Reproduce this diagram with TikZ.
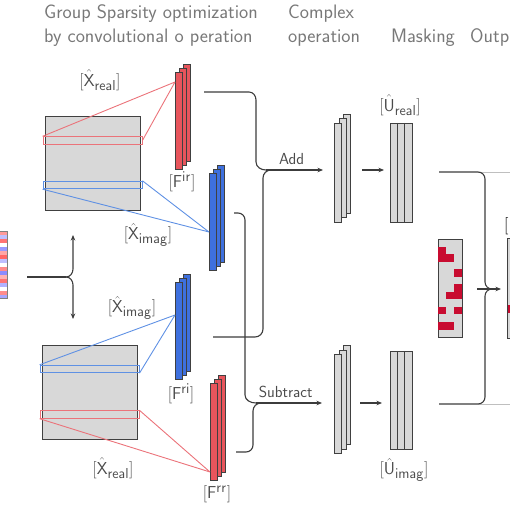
\documentclass[tikz,border=0pt]{standalone}
\usetikzlibrary{arrows.meta,calc}
\renewcommand{\familydefault}{\sfdefault}
\definecolor{fred}{RGB}{232,85,92}
\definecolor{fblue}{RGB}{62,112,222}
\definecolor{boxgray}{RGB}{216,216,216}
\definecolor{linec}{RGB}{60,60,60}
\definecolor{headgray}{RGB}{120,120,120}
\definecolor{labgray}{RGB}{75,75,75}
\definecolor{bandred}{RGB}{235,115,122}
\definecolor{bandblue}{RGB}{95,145,228}
\definecolor{maskred}{RGB}{200,12,48}
\begin{document}
\begin{tikzpicture}[x=1pt,y=-1pt,
  conn/.style={draw=linec,line width=1.1pt},
  arr/.style={conn,-{Stealth[length=5.5pt,width=4.5pt]}},
  fbar/.style={draw=black!75,line width=0.7pt,minimum width=7pt,minimum height=97pt,inner sep=0pt,anchor=north west},
  gbar/.style={draw=black!75,fill=boxgray,line width=0.8pt,minimum width=7pt,minimum height=99pt,inner sep=0pt,anchor=north west},
  head/.style={text=headgray,font=\fontsize{19.5}{22}\selectfont,anchor=base west,inner sep=0pt},
  lab/.style={text=labgray,font=\fontsize{19}{22}\selectfont,inner sep=0pt},
  oplab/.style={text=labgray,font=\fontsize{16}{19}\selectfont,inner sep=0pt},
  band/.style={line width=0.9pt,minimum width=99pt,minimum height=7.5pt,inner sep=0pt},
  sq/.style={draw=black!75,fill=boxgray,line width=0.9pt,minimum width=95pt,minimum height=94pt,inner sep=0pt},
]
\clip (0,0) rectangle (510,510);

% headers
\node[head] (h1) at (44,19) {Group Sparsity optimization};
\node[head] (h2) at (44,43) {by convolutional o peration};
\node[head] (h3) at (288,19) {Complex};
\node[head] (h4) at (288,43) {operation};
\node[head] (h5) at (391,43) {Masking};
\node[head] (h6) at (470,43) {Output};

% input image
\begin{scope}
\clip (0,231) rectangle (7,298);
\foreach \yy/\cc in {231/red!40,235/blue!25,239/red!55,243/white,247/blue!40,251/red!35,255/red!60,259/blue!25,263/white,267/red!45,271/blue!45,275/red!30,279/red!55,283/blue!30,287/white,291/red!45,295/blue!35}
  \fill[\cc] (0,\yy) rectangle (7,\yy+4);
\end{scope}
\draw[gray,line width=0.8pt] (0,231) -- (7,231) -- (7,298) -- (0,298);
\coordinate (in) at (27,277);
\coordinate (br) at (66,277);
\coordinate (up) at (73,235);
\coordinate (dn) at (73,319);
\draw[conn] (in) -- (br);
\draw[arr] (br) to[out=0,in=-90] (73,269) -- (up);
\draw[arr] (br) to[out=0,in=90] (73,285) -- (dn);

% squares
\node[sq] (sq1) at (92.5,163.5) {};
\node[sq] (sq2) at (89.5,392) {};
\node[band,draw=bandred] (b1r) at (92.5,140.5) {};
\node[band,draw=bandblue] (b1b) at (92.5,185) {};
\node[band,draw=bandblue] (b2b) at (89.5,369) {};
\node[band,draw=bandred] (b2r) at (89.5,414.5) {};

% filters
\node[fbar,fill=fred] (F1c) at (183,64) {};
\node[fbar,fill=fred] (F1b) at (179,68) {};
\node[fbar,fill=fred] (F1) at (175,72) {};
\node[fbar,fill=fblue] (F2c) at (217,165) {};
\node[fbar,fill=fblue] (F2b) at (213,169) {};
\node[fbar,fill=fblue] (F2) at (209,173) {};
\node[fbar,fill=fblue] (F3c) at (183,274) {};
\node[fbar,fill=fblue] (F3b) at (179,278) {};
\node[fbar,fill=fblue] (F3) at (175,282) {};
\node[fbar,fill=fred] (F4c) at (218,375) {};
\node[fbar,fill=fred] (F4b) at (214,379) {};
\node[fbar,fill=fred] (F4) at (210,383) {};

% band-to-filter lines
\coordinate (p1) at (175,82);
\coordinate (p2) at (209,232);
\coordinate (p3) at (175,315);
\coordinate (p4) at (210,472);
\draw[bandred,line width=0.9pt] (b1r.north west) -- (p1) (b1r.east) -- (p1);
\draw[bandblue,line width=0.9pt] (b1b.south west) -- (p2) (b1b.north east) -- (p2);
\draw[bandblue,line width=0.9pt] (b2b.north west) -- (p3) (b2b.south east) -- (p3);
\draw[bandred,line width=0.9pt] (b2r.south west) -- (p4) (b2r.north east) -- (p4);

% labels
\node[lab] (lX1) at (100,80) {$[\hat{\mathsf{X}}_{\mathsf{real}}]$};
\node[lab] (lX2) at (148,235) {$[\hat{\mathsf{X}}_{\mathsf{imag}}]$};
\node[lab] (lF1) at (182,182) {$[\mathsf{F}^{\mathsf{ir}}]$};
\node[lab] (lX3) at (132,308) {$[\hat{\mathsf{X}}_{\mathsf{imag}}]$};
\node[lab] (lF3) at (181,394) {$[\mathsf{F}^{\mathsf{ri}}]$};
\node[lab] (lX4) at (113,468) {$[\hat{\mathsf{X}}_{\mathsf{real}}]$};
\node[lab] (lF4) at (217,494) {$[\mathsf{F}^{\mathsf{rr}}]$};

% add / subtract junctions
\coordinate (ja) at (266,170);
\coordinate (js) at (256,403);
\draw[conn] (204,92) -- (249,92) to[out=0,in=90] (256,100) -- (256,162) to[out=-90,in=180] (ja);
\draw[conn] (213,337) -- (255,337) to[out=0,in=-90] (263,329) -- (263,178) to[out=90,in=180] (271,170);
\draw[conn] (234,213) -- (238,213) to[out=0,in=90] (245,220) -- (245,395) to[out=-90,in=180] (js);
\draw[conn] (236,452) -- (246,452) to[out=0,in=-90] (253,445) -- (253,411) to[out=90,in=180] (261,403);

% complex op stacks
\node[gbar] (Ac) at (343,114) {};
\node[gbar] (Ab) at (338.5,118.5) {};
\node[gbar] (A) at (334,123) {};
\node[gbar] (Sc) at (343,345) {};
\node[gbar] (Sb) at (338.5,349.5) {};
\node[gbar] (S) at (334,354) {};
\draw[arr] (ja) -- node[oplab,above=5pt,pos=0.45] (lAdd) {Add} (323,170);
\draw[arr] (js) -- node[oplab,above=5pt,pos=0.45] (lSub) {Subtract} (322,403);

% U blocks
\node[draw=black!75,fill=boxgray,line width=0.8pt,minimum width=22pt,minimum height=99pt,inner sep=0pt,anchor=north west] (Ur) at (390,123) {};
\draw[black!75,line width=0.8pt] (397.3,123) -- (397.3,222) (404.7,123) -- (404.7,222);
\node[draw=black!75,fill=boxgray,line width=0.8pt,minimum width=22pt,minimum height=98pt,inner sep=0pt,anchor=north west] (Ui) at (390,351) {};
\draw[black!75,line width=0.8pt] (397.3,351) -- (397.3,449) (404.7,351) -- (404.7,449);
\coordinate (ua) at (362,170);
\coordinate (ub) at (360,403);
\draw[arr] (ua) -- ($(ua-|Ur.west)+(-6,0)$);
\draw[arr] (ub) -- ($(ub-|Ui.west)+(-8,0)$);
\node[lab] (lUr) at (400,105) {$[\hat{\mathsf{U}}_{\mathsf{real}}]$};
\node[lab] (lUi) at (404,470) {$[\hat{\mathsf{U}}_{\mathsf{imag}}]$};

% mask
\node[draw=black!75,fill=boxgray,line width=0.8pt,minimum width=24pt,minimum height=98pt,inner sep=0pt,anchor=north west] (mask) at (438,239) {};
\fill[maskred] (438.4,246.5) rectangle (446,254.1);
\fill[maskred] (438.4,254.1) rectangle (454,261.6);
\fill[maskred] (454,269.2) rectangle (461.6,276.7);
\fill[maskred] (454,284.2) rectangle (461.6,291.8);
\fill[maskred] (446,291.8) rectangle (461.6,299.3);
\fill[maskred] (438.4,306.9) rectangle (446,314.4);
\fill[maskred] (454,306.9) rectangle (461.6,314.4);
\fill[maskred] (438.4,321.9) rectangle (454,329.5);

% right connectors
\coordinate (jr) at (492,289);
\draw[black!25,line width=0.8pt] (478,172) -- (510,172) (478,404) -- (510,404);
\draw[conn] (439,172) -- (478,172) to[out=0,in=90] (485,179) -- (485,282) to[out=-90,in=180] (jr);
\draw[conn] (439,404) -- (478,404) to[out=0,in=-90] (485,397) -- (485,296) to[out=90,in=180] (jr);
\coordinate (ar0) at (477,289);
\draw[arr] (ar0) -- (501,289);

% output (cut off)
\node[draw=black!75,fill=boxgray,line width=0.8pt,minimum width=24pt,minimum height=100pt,inner sep=0pt,anchor=north west] (out) at (507,238) {};
\fill[maskred] (507.5,305) rectangle (515,313);
\node[lab,anchor=west,text=black] (lout) at (504,224) {$[\hat{\mathsf{U}}]$};
\end{tikzpicture}
\end{document}
